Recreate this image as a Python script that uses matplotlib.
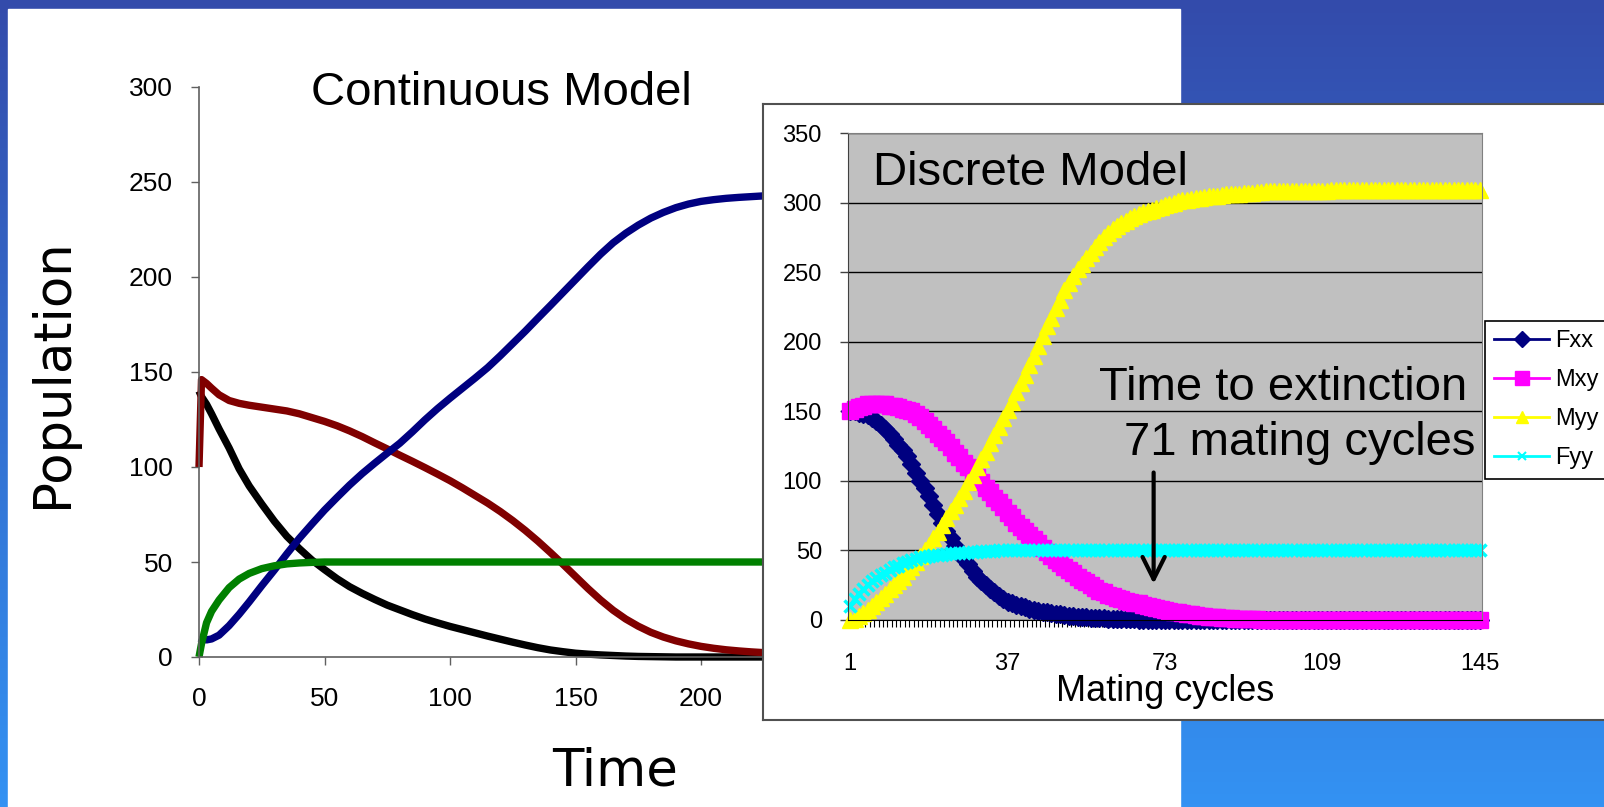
import numpy as np
import matplotlib
matplotlib.use("Agg")
import matplotlib.pyplot as plt
from matplotlib.colors import LinearSegmentedColormap
from matplotlib.lines import Line2D
from matplotlib.patches import Rectangle

W, H, DPI = 1604, 807, 100
SANS = ["Liberation Sans", "DejaVu Sans"]

# --- continuous model (left chart) ---
time = [0, 1, 3, 5, 8, 12, 16, 20, 25, 30, 35, 40, 45,
        50, 55, 60, 65, 70, 75, 80, 85, 90, 95,
        100, 105, 110, 115, 120, 125, 130, 135, 140, 145,
        150, 155, 160, 165, 170, 175, 180, 185, 190, 195,
        200, 205, 210, 215, 220, 225, 230, 235, 240]
black_pop = [140, 137, 133, 128, 120, 110, 99, 90, 80.5, 71.5, 63.5, 57, 51,
             46, 41.2, 37, 33.5, 30.3, 27.3, 24.8, 22.3, 20, 18,
             16.1, 14.4, 12.7, 11, 9.4, 7.8, 6.3, 4.9, 3.7, 2.8,
             2.0, 1.5, 1.1, 0.8, 0.5, 0.3, 0.2, 0.1, 0, 0,
             0, 0, 0, 0, 0, 0, 0, 0, 0]
red_pop = [100, 146, 144, 141.5, 138, 135, 133.5, 132.5, 131.5, 130.5, 129.5, 128, 126,
           124, 121.7, 119, 116, 112.7, 109.5, 106.2, 103, 99.7, 96.3,
           92.8, 89, 85, 81, 76.6, 71.8, 66.6, 61, 55, 48.8,
           42.4, 36, 30, 24.6, 20, 16.2, 13, 10.5, 8.5, 6.9,
           5.6, 4.6, 3.8, 3.2, 2.7, 2.3, 2.0, 1.8, 1.6]
blue_pop = [10, 9.5, 9, 9.5, 11.5, 16.5, 22.5, 29, 37.5, 45.7, 54.3, 62.5, 70,
            77.3, 84, 90.5, 96.5, 102, 107.3, 112.5, 118.5, 124.8, 130.7,
            136.2, 141.5, 146.8, 152.3, 158.5, 165, 171.5, 178.3, 185, 191.8,
            198.6, 205.4, 212, 218, 223, 227.3, 231, 234, 236.5, 238.4,
            239.8, 240.7, 241.4, 241.9, 242.3, 242.7, 243, 243.2, 243.4]
green_pop = [0, 7, 18, 24, 30, 36.5, 41, 44, 46.5, 48, 49, 49.5, 49.8] + [50] * 39

# --- discrete model (right chart), one value per mating cycle 1..145 ---
fxx = [150, 150, 149, 148, 147, 145, 143, 140, 137, 134,
       130, 126, 122, 118, 112, 106, 100, 95, 89, 83,
       76, 70, 64, 59, 53, 48, 44, 40, 35, 31,
       28, 25, 22, 20, 17, 15, 13, 12, 11, 10,
       9, 8, 7, 6.5, 6, 5.5, 5, 4.5, 4, 3.5,
       3, 2.7, 2.4, 2.1, 1.9, 1.7, 1.5, 1.3, 1.1, 1.0,
       0.9, 0.8, 0.7, 0.6, 0.5, 0.4, 0.3, 0.3, 0.2, 0.2] + [0] * 75
mxy = [150, 152, 153, 154, 155, 155, 155, 155, 155, 154,
       154, 153, 152, 151, 150, 148, 146, 143, 140, 137,
       134, 131, 128, 124, 120, 117, 113, 110, 106, 103,
       99, 95, 92, 88, 85, 81, 77, 74, 70, 67,
       64, 61, 58, 55, 52, 49, 46, 43, 41, 38,
       36, 34, 31, 29, 27, 25, 23, 21, 20, 18,
       17, 16, 15, 14, 13, 12.5, 12, 11, 10, 9,
       8.5, 8, 7, 6.5, 6, 5.5, 5, 4.5, 4, 3.5,
       3, 2.7, 2.4, 2.1, 1.8, 1.5, 1.3, 1.1, 1.0, 0.8,
       0.7, 0.6, 0.5, 0.4, 0.3] + [0] * 50
myy = [0, 1, 3, 5, 7, 10, 13, 16, 19, 22,
       25, 28, 31, 35, 38, 42, 46, 50, 54, 59,
       63, 68, 73, 78, 83, 88, 93, 99, 104, 110,
       116, 121, 127, 133, 139, 145, 151, 157, 164, 170,
       176, 183, 190, 197, 204, 211, 217, 224, 230, 237,
       242, 247, 252, 256, 260, 264, 268, 272, 275, 278,
       281, 283, 285, 287, 289, 290, 292, 293, 294, 295,
       296, 297, 298, 299, 300, 301, 301.5, 302, 302.5, 303,
       303.5, 304, 304.5, 305, 305, 305.5, 306, 306, 306.5, 306.5,
       307, 307, 307, 307.5, 307.5] + [308] * 15 + [309] * 35
fyy = [10, 15, 19, 22, 25, 28, 30, 32, 34, 36,
       38, 39, 41, 42, 43, 44, 45, 45.5, 46, 46.5,
       47, 47, 47.5, 48, 48, 48.5, 48.5, 49, 49, 49,
       49.5, 49.5, 49.5, 49.5] + [50] * 111
cycles = np.arange(1, len(fxx) + 1)
cycle_ticks = [1, 37, 73, 109, 145]


def rect(x0, y0, x1, y1):
    """pixel box (origin top-left) -> figure fraction rect"""
    return [x0 / W, 1 - y1 / H, (x1 - x0) / W, (y1 - y0) / H]


def ftext(x, y, s, **kw):
    kw.setdefault("family", SANS)
    return fig.text(x / W, 1 - y / H, s, **kw)


fig = plt.figure(figsize=(W / DPI, H / DPI), dpi=DPI)

# slide background: blue gradient + white panel
bg = fig.add_axes([0, 0, 1, 1])
grad = np.linspace(0, 1, 256)[:, None]
bg.imshow(grad, cmap=LinearSegmentedColormap.from_list("slide", ["#334bab", "#3492f3"]),
          aspect="auto", extent=(0, W, H, 0))
bg.add_patch(Rectangle((8, 9), 1172, 800, color="white"))
bg.set_xlim(0, W)
bg.set_ylim(H, 0)
bg.axis("off")

# continuous model
ax1 = fig.add_axes(rect(199, 87, 952, 657))
ax1.patch.set_visible(False)
for y, c in [(black_pop, "black"), (red_pop, "#800000"), (blue_pop, "#000080"), (green_pop, "#008000")]:
    ax1.plot(time, y, color=c, lw=5.3, solid_capstyle="butt", solid_joinstyle="round", clip_on=False)
ax1.set_xlim(0, 300)
ax1.set_ylim(0, 300)
ax1.set_xticks(range(0, 301, 50))
ax1.set_yticks(range(0, 301, 50))
for s in ("top", "right"):
    ax1.spines[s].set_visible(False)
for s in ("left", "bottom"):
    ax1.spines[s].set_color("#606060")
    ax1.spines[s].set_linewidth(1.2)
ax1.tick_params(direction="out", length=5.8, width=1, color="#606060", labelsize=19)
ax1.tick_params(axis="y", pad=13)
ax1.tick_params(axis="x", pad=16)
for lab in ax1.get_xticklabels() + ax1.get_yticklabels():
    lab.set_family(SANS)

# discrete model: white frame then grey plot area
frame = fig.add_axes(rect(763, 104, 1612, 720))
frame.set_xticks([])
frame.set_yticks([])
for s in frame.spines.values():
    s.set_color("#505050")
    s.set_linewidth(1.5)

ax2 = fig.add_axes(rect(848, 133, 1482, 620))
ax2.set_facecolor("#c0c0c0")
series = [("Fxx", fxx, "#000080", "D", 9, 1, 8),
          ("Mxy", mxy, "#ff00ff", "s", 11, 1, 10),
          ("Myy", myy, "#ffff00", "^", 11, 1, 9),
          ("Fyy", fyy, "#00ffff", "x", 9, 2.5, 6)]
handles = []
for name, vals, c, m, ms, mew, lms in series:
    ax2.plot(cycles, vals, color=c, lw=2.5, marker=m, ms=ms, mew=mew, mec=c, mfc=c, clip_on=False)
    handles.append(Line2D([], [], color=c, lw=2, marker=m, ms=lms, mew=min(mew, 1.5), mec=c, mfc=c))
ax2.set_xlim(0.5, 145.5)
ax2.set_ylim(0, 350)
ax2.set_yticks(range(0, 351, 50))
ax2.set_xticks(cycle_ticks)
ax2.set_xticks(np.arange(0.5, 146, 1), minor=True)
ax2.yaxis.grid(True, color="black", lw=1)
ax2.set_axisbelow(True)
for s in ("top", "right"):
    ax2.spines[s].set_color("#808080")
ax2.spines["left"].set_color("#404040")
ax2.spines["bottom"].set_color("black")
ax2.tick_params(axis="y", direction="out", length=5.8, width=1, color="#404040", labelsize=17, pad=13)
ax2.tick_params(axis="x", which="major", length=0, labelsize=17, pad=24)
ax2.tick_params(axis="x", which="minor", direction="out", length=5, width=0.8, color="black")
for lab in ax2.get_xticklabels() + ax2.get_yticklabels():
    lab.set_family(SANS)

ax2.annotate("", xy=(70.4, 24), xytext=(70.4, 108),
             arrowprops=dict(arrowstyle="->", lw=3, color="black", mutation_scale=40))

leg = ax2.legend(handles, [s[0] for s in series], loc="upper left",
                 bbox_to_anchor=(1485 / W, 1 - 321 / H), bbox_transform=fig.transFigure,
                 fancybox=False, framealpha=1, edgecolor="black",
                 handlelength=2.3, handletextpad=0.25, labelspacing=0.72,
                 borderpad=0.4, borderaxespad=0, prop={"family": SANS, "size": 17})
leg.get_frame().set_linewidth(1.2)

# texts
ftext(501, 105, "Continuous Model", ha="center", va="baseline", fontsize=34)
ftext(53, 373, "Population", rotation=90, ha="center", va="center", fontsize=37, family="DejaVu Sans")
ftext(615, 785, "Time", ha="center", va="baseline", fontsize=37, family="DejaVu Sans")
ftext(873, 185, "Discrete Model", ha="left", va="baseline", fontsize=34)
ftext(1467, 400, "Time to extinction", ha="right", va="baseline", fontsize=34)
ftext(1475, 455, "71 mating cycles", ha="right", va="baseline", fontsize=34)
ftext(1165, 701, "Mating cycles", ha="center", va="baseline", fontsize=26)

fig.savefig("out.png", dpi=DPI)
